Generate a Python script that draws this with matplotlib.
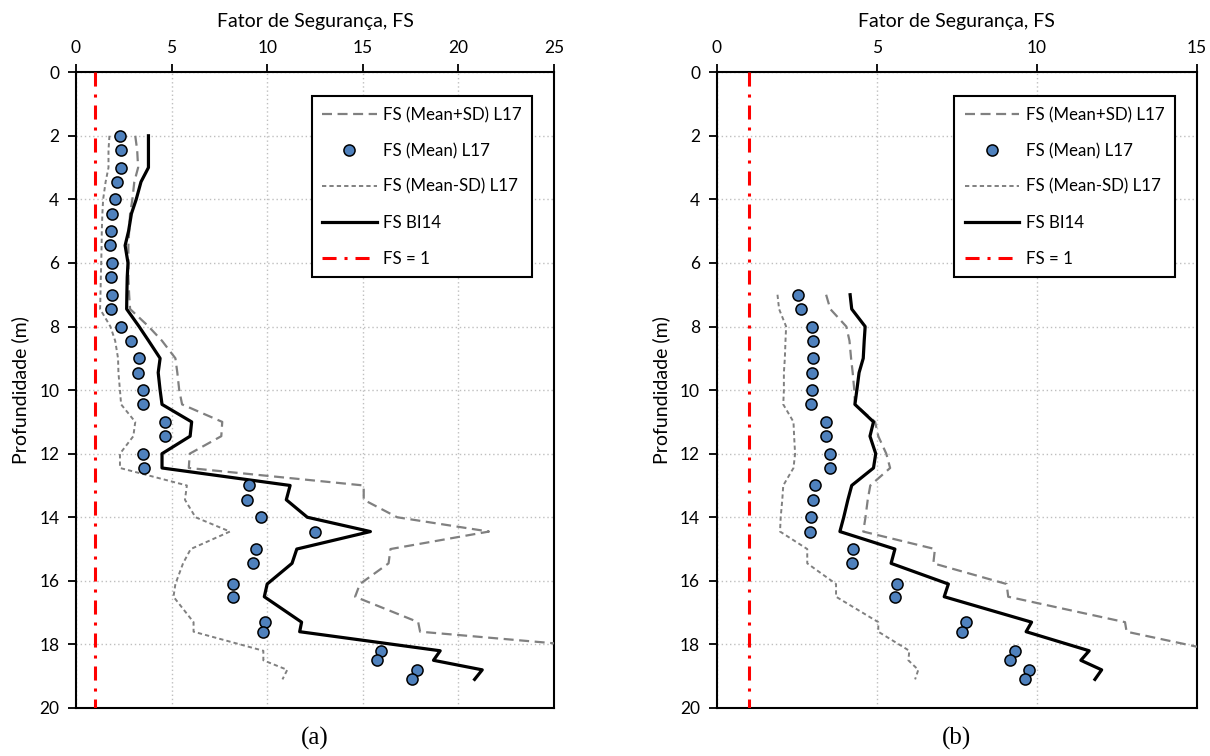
import matplotlib.pyplot as plt
from matplotlib.lines import Line2D

# ---- dados: painel (a) ----
depth_a = [2.0, 2.45, 3.0, 3.45, 4.0, 4.45, 5.0, 5.45, 6.0, 6.45, 7.0, 7.45,
           8.0, 8.45, 9.0, 9.45, 10.0, 10.45, 11.0, 11.45, 12.0, 12.45,
           13.0, 13.45, 14.0, 14.45, 15.0, 15.45, 16.1, 16.5, 17.3, 17.6,
           18.2, 18.5, 18.8, 19.1]
mean_a = [2.30, 2.34, 2.37, 2.13, 2.04, 1.90, 1.83, 1.78, 1.90, 1.85, 1.88, 1.83,
          2.37, 2.88, 3.32, 3.26, 3.49, 3.49, 4.68, 4.68, 3.53, 3.56,
          9.06, 8.92, 9.69, 12.51, 9.41, 9.27, 8.22, 8.19, 9.91, 9.76,
          15.95, 15.74, 17.85, 17.57]
mean_plus_a = [3.10, 3.20, 3.25, 3.05, 2.95, 2.83, 2.78, 2.74, 2.74, 2.74, 2.78, 2.83,
               3.80, 4.50, 5.20, 5.30, 5.40, 5.55, 7.65, 7.60, 5.95, 5.90,
               15.05, 15.05, 16.80, 21.60, 16.45, 16.35, 14.85, 14.60, 17.90, 18.00,
               29.5, 29.0, 32.5, 32.0]
mean_minus_a = [1.75, 1.70, 1.70, 1.55, 1.42, 1.38, 1.35, 1.34, 1.32, 1.30, 1.28, 1.26,
                1.80, 2.05, 2.20, 2.22, 2.30, 2.36, 3.10, 3.00, 2.30, 2.30,
                5.80, 5.70, 6.25, 8.05, 6.00, 5.60, 5.20, 5.10, 6.15, 6.15,
                9.80, 9.80, 11.05, 10.80]
bi14_a = [3.79, 3.79, 3.79, 3.40, 3.15, 2.90, 2.75, 2.57, 2.72, 2.68, 2.66, 2.65,
          3.30, 3.80, 4.40, 4.30, 4.40, 4.50, 6.05, 5.97, 4.50, 4.50,
          11.20, 11.00, 12.10, 15.40, 11.55, 11.30, 10.00, 9.85, 11.80, 11.70,
          19.05, 18.70, 21.25, 20.85]

# ---- dados: painel (b) ----
depth_b = [7.0, 7.45, 8.0, 8.45, 9.0, 9.45, 10.0, 10.45, 11.0, 11.45, 12.0, 12.45,
           13.0, 13.45, 14.0, 14.45, 15.0, 15.45, 16.1, 16.5, 17.3, 17.6,
           18.2, 18.5, 18.8, 19.1]
mean_b = [2.55, 2.63, 2.98, 3.00, 3.00, 2.97, 2.99, 2.96, 3.41, 3.41, 3.55, 3.55,
          3.08, 3.02, 2.95, 2.93, 4.25, 4.23, 5.64, 5.56, 7.78, 7.68,
          9.31, 9.18, 9.76, 9.63]
mean_plus_b = [3.42, 3.55, 4.05, 4.15, 4.20, 4.25, 4.30, 4.32, 4.95, 5.05, 5.30, 5.42,
               4.80, 4.72, 4.65, 4.58, 6.82, 6.77, 9.06, 9.11, 12.76, 12.81,
               15.6, 15.4, 16.3, 16.1]
mean_minus_b = [1.90, 1.95, 2.17, 2.15, 2.13, 2.10, 2.10, 2.08, 2.40, 2.42, 2.45, 2.40,
                2.08, 2.05, 2.00, 1.98, 2.83, 2.83, 3.73, 3.73, 5.05, 5.05,
                6.02, 5.99, 6.30, 6.20]
bi14_b = [4.17, 4.22, 4.64, 4.61, 4.58, 4.45, 4.38, 4.32, 4.90, 4.79, 4.97, 4.90,
          4.22, 4.10, 3.97, 3.85, 5.57, 5.45, 7.24, 7.11, 9.84, 9.67,
          11.64, 11.38, 12.03, 11.82]

FS_LIMIT = 1
LABELS = ["FS (Mean+SD) L17", "FS (Mean) L17", "FS (Mean-SD) L17", "FS BI14", "FS = 1"]
BLUE = "#4F81BD"
GRAY = "#808080"
LONG_DASH = (4.5, 2.5)
SHORT_DASH = (2.2, 1.6)
DASH_DOT = (4.6, 2.6, 1.0, 2.6)

plt.rcParams["font.family"] = ["Lato", "DejaVu Sans"]


def draw_panel(ax, depth, mean, plus, minus, bi14, xmax, tag):
    ax.plot(plus, depth, color=GRAY, lw=1.6, dashes=LONG_DASH, zorder=3)
    ax.plot(minus, depth, color=GRAY, lw=1.4, dashes=SHORT_DASH, zorder=3)
    ax.plot(bi14, depth, color="black", lw=2.3, zorder=4)
    ax.plot(mean, depth, "o", ms=8, mfc=BLUE, mec="black", mew=1.1,
            ls="none", zorder=5)
    ax.plot([FS_LIMIT, FS_LIMIT], [0, 20], color="red", lw=2.2,
            dashes=DASH_DOT, zorder=3)

    ax.set_xlim(0, xmax)
    ax.set_ylim(20, 0)
    ax.set_xticks(range(0, xmax + 1, 5))
    ax.set_yticks(range(0, 21, 2))
    ax.xaxis.tick_top()
    ax.xaxis.set_label_position("top")
    ax.tick_params(direction="out", length=6, width=1.3, labelsize=12.5,
                   colors="black", pad=6)
    ax.set_xlabel("Fator de Segurança, FS", fontsize=14, labelpad=9)
    ax.set_ylabel("Profundidade (m)", fontsize=14, labelpad=7)
    ax.grid(True, color="#bfbfbf", ls=(0, (1, 2)), lw=1.0, zorder=0)
    for sp in ax.spines.values():
        sp.set_linewidth(1.5)
        sp.set_color("black")

    handles = [
        Line2D([], [], color=GRAY, lw=1.6, dashes=LONG_DASH),
        Line2D([], [], marker="o", ms=8, mfc=BLUE, mec="black", mew=1.1, ls="none"),
        Line2D([], [], color=GRAY, lw=1.4, dashes=SHORT_DASH),
        Line2D([], [], color="black", lw=2.3),
        Line2D([], [], color="red", lw=2.2, dashes=DASH_DOT),
    ]
    leg = ax.legend(handles, LABELS, loc="upper right",
                    bbox_to_anchor=(0.955, 0.962), borderaxespad=0,
                    fontsize=12.2, frameon=True, fancybox=False,
                    edgecolor="black", framealpha=1, handlelength=3.2,
                    labelspacing=1.17, borderpad=0.62, handletextpad=0.4)
    leg.get_frame().set_linewidth(1.5)
    leg.set_zorder(10)

    ax.text(0.5, -0.03, tag, transform=ax.transAxes, ha="center", va="top",
            fontsize=18, family=["Liberation Serif"])


fig = plt.figure(figsize=(12.1, 7.56), dpi=100)
ax_a = fig.add_axes([0.0628, 0.0635, 0.395, 0.841])
ax_b = fig.add_axes([0.5923, 0.0635, 0.3967, 0.841])

draw_panel(ax_a, depth_a, mean_a, mean_plus_a, mean_minus_a, bi14_a, 25, "(a)")
draw_panel(ax_b, depth_b, mean_b, mean_plus_b, mean_minus_b, bi14_b, 15, "(b)")

fig.savefig("out.png", dpi=100)
